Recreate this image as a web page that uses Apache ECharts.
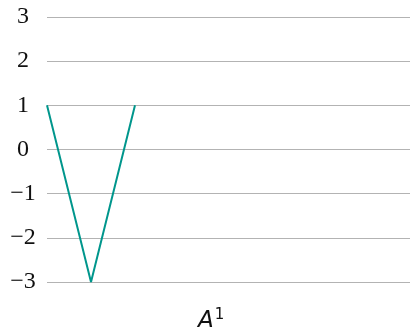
<!DOCTYPE html>
<html><head><meta charset="utf-8">
<script src="https://cdn.jsdelivr.net/npm/echarts@6/dist/echarts.min.js"></script>
<style>html,body{margin:0;padding:0;background:#fff}#c{width:410px;height:334px}</style>
</head><body><div id="c"></div>
<script>
const xValues = [0, 1, 2];
const yValues = [1, -3, 1];
const yTicks = [-3, -2, -1, 0, 1, 2, 3];
const xLabel = 'A';
const xLabelSup = '1';

const chart = echarts.init(document.getElementById('c'), null, {renderer: 'canvas'});
chart.setOption({
  animation: false,
  title: {
    text: '{a|' + xLabel + '}{s|' + xLabelSup + '}',
    left: 193, bottom: -4,
    textStyle: {
      fontWeight: 'normal',
      rich: {
        a: {fontFamily: 'DejaVu Sans', fontStyle: 'italic', fontWeight: 'normal', fontSize: 23, color: '#111', verticalAlign: 'bottom'},
        s: {fontFamily: 'DejaVu Sans', fontWeight: 'normal', fontSize: 15, color: '#111', verticalAlign: 'top', padding: [0,0,10,1]}
      }
    }
  },
  grid: {left: 47, right: 0, top: 17, bottom: 52},
  xAxis: {
    type: 'value', min: 0, max: 8.25, show: false
  },
  yAxis: {
    type: 'value', min: yTicks[0], max: yTicks[yTicks.length - 1], interval: 1,
    axisLine: {show: false}, axisTick: {show: false},
    axisLabel: {
      margin: 24, align: 'center',
      fontFamily: 'Liberation Serif', fontSize: 24, color: '#111',
      formatter: v => (v < 0 ? '\u2212' + Math.abs(v) : String(v))
    },
    splitLine: {lineStyle: {color: '#b3b3b3', width: 1}}
  },
  series: [{
    type: 'line',
    data: xValues.map((x, i) => [x, yValues[i]]),
    showSymbol: false,
    lineStyle: {color: '#00968c', width: 2},
    itemStyle: {color: '#00968c'}
  }]
});
</script></body></html>
